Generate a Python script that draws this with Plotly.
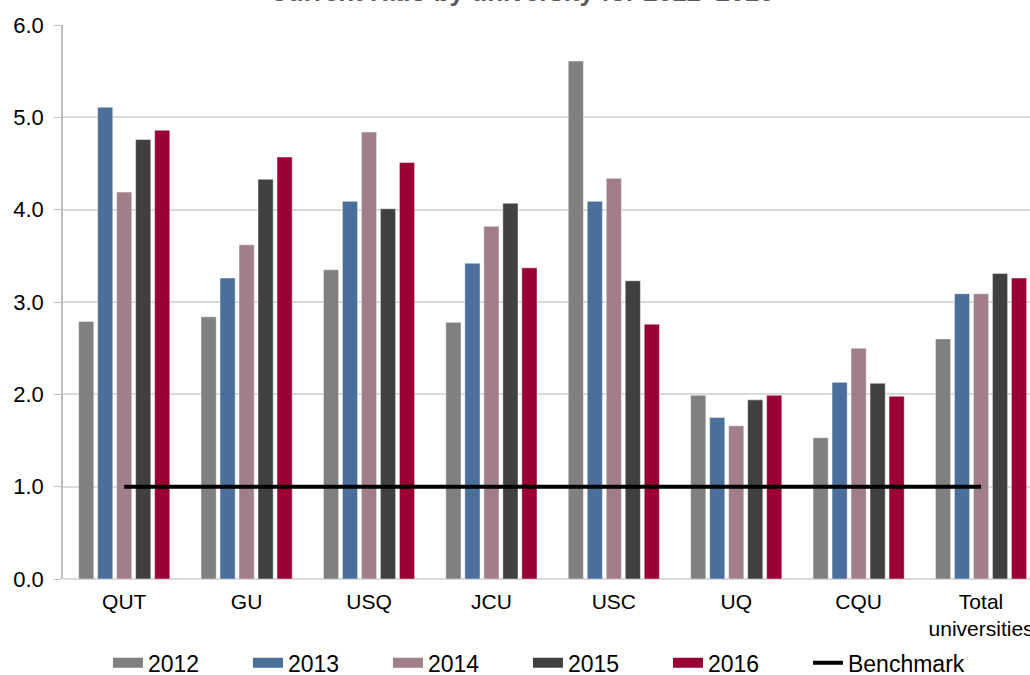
import plotly.graph_objects as go

universities = ["QUT", "GU", "USQ", "JCU", "USC", "UQ", "CQU", "Total<br>universities"]
years = ["2012", "2013", "2014", "2015", "2016"]
ratio_2012 = [2.79, 2.84, 3.35, 2.78, 5.61, 1.99, 1.53, 2.60]
ratio_2013 = [5.11, 3.26, 4.09, 3.42, 4.09, 1.75, 2.13, 3.09]
ratio_2014 = [4.19, 3.62, 4.84, 3.82, 4.34, 1.66, 2.50, 3.09]
ratio_2015 = [4.76, 4.33, 4.01, 4.07, 3.23, 1.94, 2.12, 3.31]
ratio_2016 = [4.86, 4.57, 4.51, 3.37, 2.76, 1.99, 1.98, 3.26]
benchmark = [1.0] * len(universities)

series = [ratio_2012, ratio_2013, ratio_2014, ratio_2015, ratio_2016]
colors = ["#808080", "#4A6F9B", "#A07E8A", "#404040", "#990033"]

fig = go.Figure()
for year, vals, col in zip(years, series, colors):
    fig.add_trace(go.Bar(
        x=universities, y=vals, name=year, legendgroup=year, showlegend=False,
        marker=dict(color=col, line=dict(color="rgba(255,255,255,0.6)", width=0.8)),
    ))
    # wide flat legend swatch for each year
    fig.add_trace(go.Scatter(
        x=[None], y=[None], name=year, legendgroup=year, mode="lines",
        line=dict(color=col, width=13),
    ))

fig.add_trace(go.Scatter(
    x=universities, y=benchmark, name="Benchmark", mode="lines",
    line=dict(color="black", width=4), legend="legend2",
))

fig.add_annotation(
    text="<b>Current ratio by university for 2012–2016</b>",
    xref="paper", yref="paper", x=0.474, y=1.0,
    xanchor="center", yanchor="bottom", yshift=16, showarrow=False,
    font=dict(size=26, color="#595959"),
)

legend_common = dict(
    orientation="h", xanchor="left",
    y=0.018, yanchor="middle", yref="container",
    font=dict(size=23), itemwidth=30, traceorder="normal",
)

fig.update_layout(
    width=1030, height=675,
    margin=dict(l=63, r=0, t=25, b=96),
    paper_bgcolor="white", plot_bgcolor="white",
    barmode="group", bargap=0.224, bargroupgap=0.2,
    font=dict(family="Arial, Liberation Sans, sans-serif", color="black"),
    xaxis=dict(
        range=[-0.5, 7.4], showgrid=False, showline=False,
        tickfont=dict(size=21), ticks="", automargin=False,
        ticklabelstandoff=8,
    ),
    yaxis=dict(
        range=[0, 6], dtick=1, tickformat=".1f",
        showgrid=True, gridcolor="#D9D9D9", gridwidth=1.5,
        showline=True, linecolor="#BFBFBF", linewidth=1.5,
        ticks="outside", ticklen=7, tickcolor="#BFBFBF",
        tickfont=dict(size=22), zeroline=True, zerolinecolor="#D9D9D9",
        zerolinewidth=1.5, automargin=False, ticklabelstandoff=6,
    ),
    legend=dict(x=0.0465, entrywidth=95, **legend_common),
    legend2=dict(x=0.7704, **legend_common),
)

fig.write_html("out.html")
